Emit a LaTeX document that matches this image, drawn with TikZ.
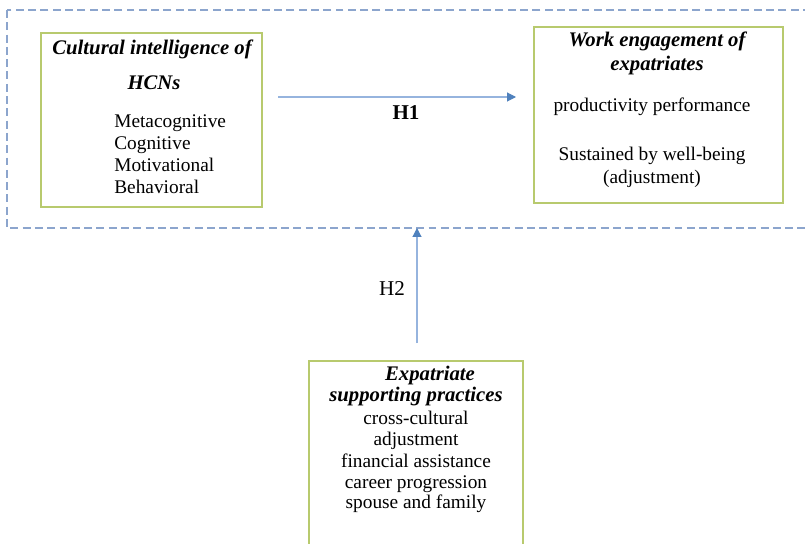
\documentclass[tikz,border=0pt]{standalone}
\usepackage{fontspec}
\setmainfont{Liberation Serif}
\usetikzlibrary{arrows.meta}
\definecolor{boxgreen}{RGB}{184,202,110}
\definecolor{framebl}{RGB}{140,165,205}
\definecolor{arrline}{RGB}{150,180,222}
\definecolor{arrhead}{RGB}{79,129,189}
\tikzstyle{gbox}=[draw=boxgreen, line width=0.8pt, inner sep=0pt]
\tikzstyle{ttl}=[font=\fontsize{11.8}{14}\selectfont\bfseries\itshape, anchor=base, inner sep=0pt]
\tikzstyle{itm}=[font=\fontsize{11}{13}\selectfont, anchor=base, inner sep=0pt]
\tikzstyle{lnk}=[draw=arrline, line width=0.6pt, -{Triangle[length=5pt,width=5pt,color=arrhead]}]

\begin{document}
\begin{tikzpicture}[x=0.02cm, y=-0.02cm]
\useasboundingbox (0,0) rectangle (805,544);
\fill[white] (0,0) rectangle (805,544);

% dashed frame round the first pair
\draw[framebl, line width=0.6pt, dash pattern=on 4.5pt off 2.5pt] (7,10) rectangle (812,228);
\coordinate (frm) at (417,228);

% boxes
\node[gbox, minimum width=4.42cm, minimum height=3.48cm] (cq) at (151.5,120) {};
\node[gbox, minimum width=4.98cm, minimum height=3.52cm] (we) at (658.5,115) {};
\node[gbox, minimum width=4.28cm, minimum height=3.8cm] (esp) at (416,456) {};

% cultural intelligence
\node[ttl] (cq1) at (152,55) {Cultural intelligence of};
\node[ttl] (cq2) at (154,90) {HCNs};
\node[itm, anchor=base west] (cq3) at (114,128) {Metacognitive};
\node[itm, anchor=base west] (cq4) at (114,150) {Cognitive};
\node[itm, anchor=base west] (cq5) at (114,172) {Motivational};
\node[itm, anchor=base west] (cq6) at (114,194) {Behavioral};

% work engagement
\node[ttl] (we1) at (657,47) {Work engagement of};
\node[ttl] (we2) at (657,71) {expatriates};
\node[itm] (we3) at (652,112) {productivity performance};
\node[itm] (we4) at (652,161) {Sustained by well-being};
\node[itm] (we5) at (652,183) {(adjustment)};

% supporting practices
\node[ttl] (es1) at (430,380) {Expatriate};
\node[ttl] (es2) at (416,401) {supporting practices};
\node[itm] (es3) at (416,424) {cross-cultural};
\node[itm] (es4) at (416,445) {adjustment};
\node[itm] (es5) at (416,467) {financial assistance};
\node[itm] (es6) at (416,488) {career progression};
\node[itm] (es7) at (416,508) {spouse and family};

% hypotheses
\coordinate (h1a) at (278,97);
\coordinate (h1b) at (516,97);
\coordinate (h2a) at (417,343);
\draw[lnk] (h1a) -- (h1b);
\draw[lnk] (h2a) -- (frm);
\node[font=\fontsize{12}{14}\selectfont\bfseries, anchor=base] (h1) at (406,120) {H1};
\node[font=\fontsize{12}{14}\selectfont, anchor=base] (h2) at (392,295) {H2};

\end{tikzpicture}
\end{document}
